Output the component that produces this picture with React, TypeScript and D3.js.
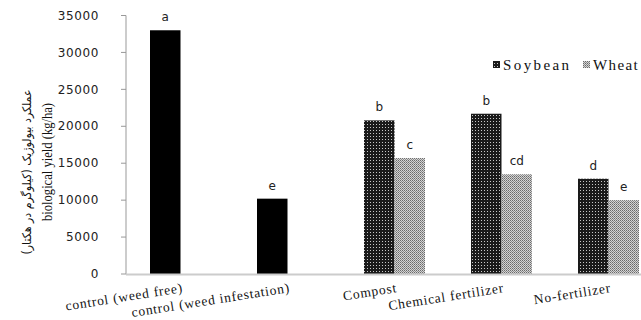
import * as d3 from 'd3';
import React from 'react';

const categories = ['control (weed free)', 'control (weed infestation)', 'Compost', 'Chemical fertilizer', 'No-fertilizer'];
const isControl = [true, true, false, false, false];
const soybean = [33000, 10200, 20800, 21700, 12900];
const wheat = [null, null, 15700, 13500, 10000];
const soybeanLetters = ['a', 'e', 'b', 'b', 'd'];
const wheatLetters = ['', '', 'c', 'cd', 'e'];
const series = ['Soybean', 'Wheat'];
const yTicks = [0, 5000, 10000, 15000, 20000, 25000, 30000, 35000];

const W = 641;
const H = 320;
const serif = {fontFamily: '"Liberation Serif", "DejaVu Serif", "Times New Roman", Times, serif'};

export default function App() {
  var x = d3.scaleBand().domain(categories).range([127, 662]).paddingInner(0.43).paddingOuter(0.215);
  var xs = d3.scaleBand().domain(series).range([0, x.bandwidth()]);
  var y = d3.scaleLinear().domain([0, 35000]).range([274, 15.5]);
  var fmt = d3.format('d');

  const bars: any[] = [];
  categories.forEach(function(c, i) {
    var vals = [soybean[i], wheat[i]];
    var letters = [soybeanLetters[i], wheatLetters[i]];
    vals.forEach(function(v, j) {
      if (v == null) return;
      var bx = (x(c) as number) + (xs(series[j]) as number);
      var fill = j == 0 ? (isControl[i] ? '#000' : 'url(#soy)') : 'url(#wheat)';
      bars.push(
        <g key={c + j}>
          <rect x={bx} y={y(v)} width={xs.bandwidth()} height={y(0) - y(v)} fill={fill} />
          <text x={bx + xs.bandwidth() / 2} y={y(v) - 9} textAnchor="middle"
            fontFamily="DejaVu Sans" fontSize={12} fill="#222">{letters[j]}</text>
        </g>
      );
    });
  });

  return (
    <svg width={W} height={H} style={{position: 'absolute', left: 0, top: 0, background: '#fff'}}>
      <defs>
        <pattern id="soy" width={3} height={3} patternUnits="userSpaceOnUse">
          <rect width={3} height={3} fill="#1a1a1a" />
          <rect x={1} y={1} width={1} height={1} fill="#c8c8c8" />
        </pattern>
        <pattern id="wheat" width={2} height={2} patternUnits="userSpaceOnUse">
          <rect width={2} height={2} fill="#d4d4d4" />
          <rect x={0} y={0} width={1} height={1} fill="#6a6a6a" />
          <rect x={1} y={1} width={1} height={1} fill="#8a8a8a" />
        </pattern>
      </defs>

      {/* y axis */}
      <line x1={126} x2={126} y1={y(35000)} y2={y(0)} stroke="#999" />
      {yTicks.map(function(t) {
        return (
          <g key={t} transform={'translate(0,' + y(t) + ')'}>
            <line x1={121} x2={126} stroke="#999" />
            <text x={99} dy="0.35em" textAnchor="end" fontFamily="DejaVu Sans" fontSize={12}
              letterSpacing={0.6} fill="#222">{fmt(t)}</text>
          </g>
        );
      })}

      {bars}

      {/* baseline */}
      <line x1={126} x2={W} y1={y(0) + 0.5} y2={y(0) + 0.5} stroke="#ccc" strokeWidth={2} />

      {/* category labels */}
      {categories.map(function(c) {
        var cx = (x(c) as number) + x.bandwidth() / 2 + 3;
        return (
          <text key={c} transform={'translate(' + cx + ',292) rotate(-9)'} textAnchor="end"
            style={serif} fontSize={13.5} letterSpacing={0.8} fill="#111">{c}</text>
        );
      })}

      {/* y title */}
      <text transform="translate(31,172) rotate(-90)" textAnchor="middle" fontFamily="DejaVu Sans"
        fontSize={12} fill="#111" direction="rtl" textLength={165} lengthAdjust="spacingAndGlyphs">
        عملکرد بیولوژیک (کیلوگرم در هکتار)
      </text>
      <text transform="translate(52,162) rotate(-90)" textAnchor="middle" style={serif}
        fontSize={15} fill="#111" textLength={118} lengthAdjust="spacingAndGlyphs">
        biological yield (kg/ha)
      </text>

      {/* legend */}
      {series.map(function(s, i) {
        var lx = i == 0 ? 493 : 583;
        return (
          <g key={s} transform={'translate(' + lx + ',65)'}>
            <rect x={0} y={-4} width={7} height={7} fill={i == 0 ? 'url(#soy)' : 'url(#wheat)'} />
            <text x={10} dy="0.35em" style={serif} fontSize={15} letterSpacing={i == 0 ? 2.4 : 1.4} fill="#111">{s}</text>
          </g>
        );
      })}
    </svg>
  );
}
